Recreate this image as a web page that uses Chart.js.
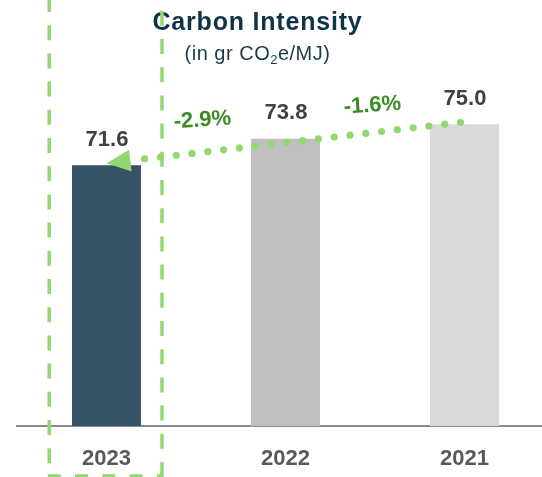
<!DOCTYPE html>
<html>
<head>
<meta charset="utf-8">
<script src="https://cdn.jsdelivr.net/npm/chart.js@4/dist/chart.umd.min.js"></script>
<style>
  html, body { margin: 0; padding: 0; background: #ffffff; overflow: hidden; }
  #wrap { width: 542px; height: 477px; position: relative; overflow: hidden; }
  #inner { width: 554px; height: 477px; position: absolute; left: 0; top: 0; }
</style>
</head>
<body>
<div id="wrap"><div id="inner"><canvas id="c"></canvas></div></div>
<script>
// ---- data ----
const categories = ['2023', '2022', '2021'];
const intensity = [71.6, 73.8, 75.0];
const changeLabels = ['-2.9%', '-1.6%'];
const barColors = ['#365266', '#bfbfbf', '#d9d9d9'];
const yMin = 50;
const yMax = 80;
const titleText = 'Carbon Intensity';

const FONT = '"Liberation Sans", Arial, Helvetica, sans-serif';
const GREEN = '#92d872';
const DARK_GREEN = '#3b8b24';

const overlay = {
  id: 'overlay',
  afterDraw(chart) {
    const ctx = chart.ctx;
    const xs = chart.scales.x;
    const ys = chart.scales.y;
    const meta = chart.getDatasetMeta(0);
    const px = categories.map((c, i) => xs.getPixelForValue(i));
    const py = intensity.map(v => ys.getPixelForValue(v));
    const cw = px[1] - px[0];

    ctx.save();
    // value labels
    ctx.font = 'bold 22px ' + FONT;
    ctx.fillStyle = '#404040';
    ctx.textAlign = 'center';
    ctx.textBaseline = 'alphabetic';
    meta.data.forEach((bar, i) => {
      ctx.fillText(intensity[i].toFixed(1), bar.x + 0.5, bar.y - 19.5);
    });

    // title
    ctx.fillStyle = '#0f3347';
    ctx.font = 'bold 25px ' + FONT;
    ctx.letterSpacing = '0.8px';
    ctx.textAlign = 'center';
    ctx.fillText(titleText, 257.5, 30);

    // subtitle with subscript
    ctx.fillStyle = '#1b3a4b';
    ctx.textAlign = 'left';
    ctx.letterSpacing = '0.5px';
    const p1 = '(in gr CO', p2 = '2', p3 = 'e/MJ)';
    ctx.font = '20px ' + FONT;
    const w1 = ctx.measureText(p1).width;
    const w3 = ctx.measureText(p3).width;
    ctx.font = '13px ' + FONT;
    const w2 = ctx.measureText(p2).width;
    let sx = 257.5 - (w1 + w2 + w3) / 2;
    ctx.font = '20px ' + FONT;
    ctx.fillText(p1, sx, 60);
    ctx.font = '13px ' + FONT;
    ctx.fillText(p2, sx + w1, 64);
    ctx.font = '20px ' + FONT;
    ctx.fillText(p3, sx + w1 + w2, 60);
    ctx.letterSpacing = '0px';

    // arrow geometry
    const T = { x: px[0], y: py[0] - 2 };
    const E = { x: px[2] - 4, y: py[2] - 2 };
    const dx = E.x - T.x, dy = E.y - T.y;
    const len = Math.hypot(dx, dy);
    const ux = dx / len, uy = dy / len;
    const lineY = (x) => T.y + (x - T.x) * (dy / dx);

    // change labels
    ctx.fillStyle = DARK_GREEN;
    ctx.font = 'bold 22px ' + FONT;
    ctx.textAlign = 'center';
    ctx.textBaseline = 'middle';
    const labelPos = [
      { x: (px[0] + px[1]) / 2 + 6.5, off: 32 },
      { x: (px[1] + px[2]) / 2 - 2.5, off: 27 }
    ];
    changeLabels.forEach((t, i) => {
      const lp = labelPos[i];
      ctx.save();
      ctx.translate(lp.x, lineY(lp.x) - lp.off);
      ctx.rotate(-4 * Math.PI / 180);
      ctx.fillText(t, 0, 0);
      ctx.restore();
    });

    // dashed highlight rectangle around 2023
    const left = px[0] - 0.32 * cw;
    const right = px[0] + 0.31 * cw;
    const bottom = 476;
    ctx.strokeStyle = GREEN;
    ctx.lineWidth = 3.5;
    ctx.lineCap = 'butt';
    ctx.setLineDash([15, 13.2]);
    ctx.beginPath();
    ctx.moveTo(left, -3);
    ctx.lineTo(left, bottom);
    ctx.stroke();
    ctx.setLineDash([13, 14.3]);
    ctx.beginPath();
    ctx.moveTo(left - 1.5, bottom);
    ctx.lineTo(right, bottom);
    ctx.stroke();
    ctx.setLineDash([15, 13.2]);
    ctx.beginPath();
    ctx.moveTo(right, bottom + 1);
    ctx.lineTo(right, -3);
    ctx.stroke();
    ctx.setLineDash([]);

    // dotted line
    ctx.fillStyle = GREEN;
    const step = 15.9;
    for (let k = 0; ; k++) {
      const d = len - k * step;
      if (d < 36) break;
      ctx.beginPath();
      ctx.arc(T.x + ux * d, T.y + uy * d, 3.6, 0, Math.PI * 2);
      ctx.fill();
    }
    // arrow head
    const hl = 24, hw = 11;
    const bx = T.x + ux * hl, by = T.y + uy * hl;
    const nx = -uy, ny = ux;
    ctx.beginPath();
    ctx.moveTo(T.x, T.y);
    ctx.lineTo(bx + nx * hw, by + ny * hw);
    ctx.lineTo(bx - nx * hw, by - ny * hw);
    ctx.closePath();
    ctx.fill();

    ctx.restore();
  }
};

new Chart(document.getElementById('c'), {
  type: 'bar',
  data: {
    labels: categories,
    datasets: [{
      data: intensity,
      backgroundColor: barColors,
      borderWidth: 0,
      barPercentage: 0.3855,
      categoryPercentage: 1.0
    }]
  },
  options: {
    responsive: true,
    maintainAspectRatio: false,
    animation: false,
    events: [],
    layout: { padding: { top: 64, left: 17, right: 0, bottom: 0 } },
    plugins: {
      legend: { display: false },
      title: { display: false },
      tooltip: { enabled: false }
    },
    scales: {
      x: {
        z: 1,
        grid: { display: false },
        border: { display: true, color: '#8c8c8c', width: 2 },
        ticks: {
          color: '#595959',
          font: { family: FONT, size: 22, weight: 'bold' },
          padding: 12
        },
        afterFit(s) { s.height = 51; }
      },
      y: {
        display: false,
        min: yMin,
        max: yMax
      }
    }
  },
  plugins: [overlay]
});
</script>
</body>
</html>
